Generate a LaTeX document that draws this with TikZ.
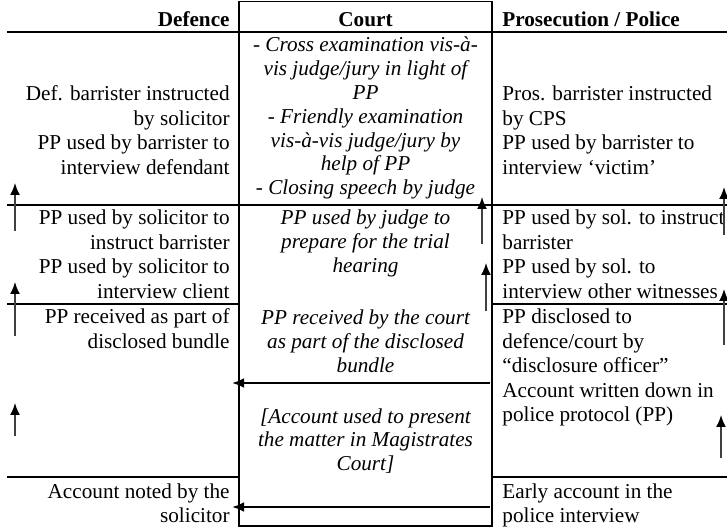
\documentclass[tikz,border=0pt]{standalone}
\usepackage{fontspec}
\setmainfont{Liberation Serif}
\usetikzlibrary{arrows.meta}
\newcommand{\blk}[2]{\begin{tabular}[t]{@{}#1@{}}#2\end{tabular}}
\tikzset{
  side/.style={inner sep=0pt, font=\fontsize{10.6pt}{12.25pt}\selectfont},
  crt/.style={inner sep=0pt, font=\fontsize{10.6pt}{11.9pt}\selectfont\itshape},
  hdr/.style={inner sep=0pt, font=\fontsize{10.6pt}{12.25pt}\selectfont\bfseries},
  rule/.style={line width=0.65pt},
  uparr/.style={-{Latex[length=6pt,width=5pt,color=black]}, line width=0.85pt, draw=black!75},
  harr/.style={-{Latex[length=6pt,width=5pt]}, line width=1.2pt},
}
\begin{document}
\begin{tikzpicture}[x=0.5pt,y=-0.5pt]
\useasboundingbox (0,0) rectangle (727,528);
% court box and rules
\draw[rule] (239,1.5) rectangle (492,526);
\draw[rule] (7,32) -- (727,32);
\draw[rule] (7,205) -- (727,205);
\draw[rule] (7,304) -- (239,304);
\draw[rule] (492,304) -- (727,304);
\draw[rule] (7,477) -- (239,477);
\draw[rule] (492,477) -- (727,477);
% headers
\node[hdr, anchor=base east] (hd) at (230,27) {Defence};
\node[hdr, anchor=base] (hc) at (365.5,27) {Court};
\node[hdr, anchor=base west] (hp) at (502,27) {Prosecution / Police};
% defence column
\node[side, anchor=base east] (l1) at (230,101) {\blk{r}{Def. barrister instructed\\ by solicitor\\ PP used by barrister to\\ interview defendant}};
\node[side, anchor=base east] (l2) at (230,225) {\blk{r}{PP used by solicitor to\\ instruct barrister\\ PP used by solicitor to\\ interview client}};
\node[side, anchor=base east] (l3) at (230,324) {\blk{r}{PP received as part of\\ disclosed bundle}};
\node[side, anchor=base east] (l4) at (230,498) {\blk{r}{Account noted by the\\ solicitor}};
% court column
\node[crt, anchor=base] (c1) at (365.5,52) {\blk{c}{- Cross examination vis-à-\\ vis judge/jury in light of\\ PP\\ - Friendly examination\\ vis-à-vis judge/jury by\\ help of PP\\ - Closing speech by judge}};
\node[crt, anchor=base] (c2) at (365.5,225) {\blk{c}{PP used by judge to\\ prepare for the trial\\ hearing}};
\node[crt, anchor=base] (c3) at (365.5,325) {\blk{c}{PP received by the court\\ as part of the disclosed\\ bundle}};
\node[crt, anchor=base] (c4) at (365.5,423) {\blk{c}{[Account used to present\\ the matter in Magistrates\\ Court]}};
% prosecution column
\node[side, anchor=base west] (r1) at (502,101) {\blk{l}{Pros. barrister instructed\\ by CPS\\ PP used by barrister to\\ interview ‘victim’}};
\node[side, anchor=base west] (r2) at (502,225) {\blk{l}{PP used by sol. to instruct\\ barrister\\ PP used by sol. to\\ interview other witnesses}};
\node[side, anchor=base west] (r3) at (502,324) {\blk{l}{PP disclosed to\\ defence/court by\\ “disclosure officer”\\ Account written down in\\ police protocol (PP)}};
\node[side, anchor=base west] (r4) at (502,498) {\blk{l}{Early account in the\\ police interview}};
% arrow end points
\coordinate (a1s) at (15,231); \coordinate (a1e) at (15,183);
\coordinate (a2s) at (15,336); \coordinate (a2e) at (15,282);
\coordinate (a3s) at (15,436); \coordinate (a3e) at (15,403);
\coordinate (b1s) at (482,244); \coordinate (b1e) at (482,197);
\coordinate (b2s) at (486,311); \coordinate (b2e) at (486,263);
\coordinate (h1s) at (490,383); \coordinate (h1e) at (232,383);
\coordinate (h2s) at (490,507); \coordinate (h2e) at (232,507);
\coordinate (p1s) at (724,235); \coordinate (p1e) at (724,187);
\coordinate (p2s) at (724,345); \coordinate (p2e) at (724,289);
\coordinate (p3s) at (721,458); \coordinate (p3e) at (721,415);
% arrows
\draw[uparr] (a1s) -- (a1e);
\draw[uparr] (a2s) -- (a2e);
\draw[uparr] (a3s) -- (a3e);
\draw[uparr] (b1s) -- (b1e);
\draw[uparr] (b2s) -- (b2e);
\draw[harr] (h1s) -- (h1e);
\draw[harr] (h2s) -- (h2e);
\draw[uparr] (p1s) -- (p1e);
\draw[uparr] (p2s) -- (p2e);
\draw[uparr] (p3s) -- (p3e);
\end{tikzpicture}
\end{document}
